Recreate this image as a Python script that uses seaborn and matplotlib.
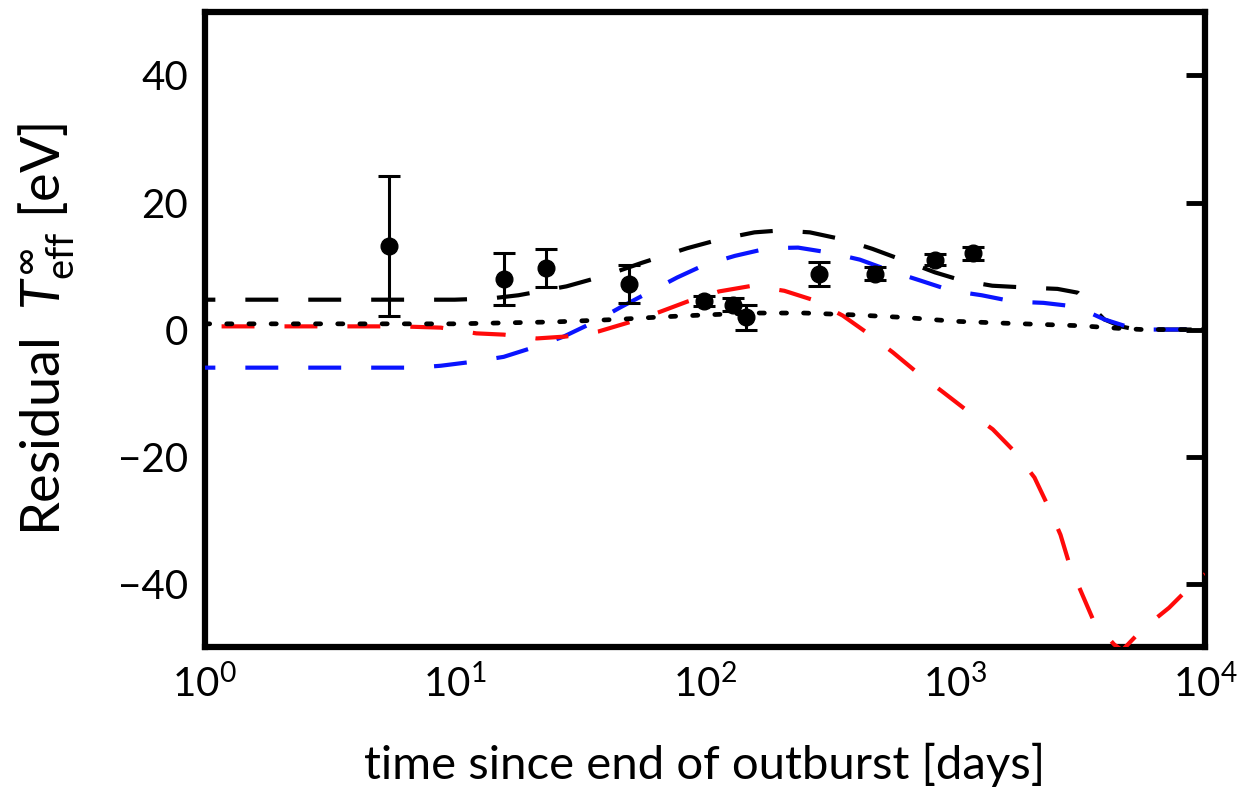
import numpy as np
import pandas as pd
import matplotlib
matplotlib.use("Agg")
import matplotlib.pyplot as plt
from matplotlib.ticker import LogLocator, NullLocator, FixedLocator
import seaborn as sns

# ---- data ----
obs_days = [5.44, 15.7, 23.1, 50.0, 99.5, 130.0, 146.0, 286.0, 481.0, 829.0, 1178.0]
obs_resid = [13.2, 7.9, 9.7, 7.2, 4.5, 3.9, 1.9, 8.7, 8.8, 11.0, 12.0]
obs_err = [11.0, 4.1, 3.0, 3.0, 0.8, 1.0, 1.9, 1.9, 1.0, 0.9, 1.0]

black_days = [1, 3, 10, 14, 18, 28, 40, 56, 85, 115, 158, 200, 263, 355, 468, 631,
              832, 1070, 1410, 1950, 2570, 3100, 3400, 3954, 4600, 5300, 10000]
black_resid = [4.7, 4.7, 4.7, 4.9, 5.4, 6.8, 8.5, 10.5, 12.8, 14.2, 15.3, 15.6, 15.3,
               14.2, 12.7, 10.8, 9.0, 7.7, 6.9, 6.6, 6.4, 5.8, 4.2, 1.6, 0.5, 0.0, 0.0]

blue_days = [1, 3, 7, 8.8, 12.2, 15.7, 21.1, 27.3, 36.6, 46, 60.7, 77.6, 100, 132, 179,
             236, 316, 417, 565, 729, 971, 1279, 1714, 2259, 3062, 3954, 5309, 10000]
blue_resid = [-6.0, -6.0, -6.0, -5.7, -5.0, -4.3, -2.7, -1.1, 1.3, 3.5, 6.0, 8.2, 10.2,
              11.6, 12.8, 12.9, 12.1, 11.0, 9.1, 7.7, 6.1, 5.4, 4.4, 4.2, 3.6, 1.6, 0.0, 0.0]

red_days = [1.17, 3, 6, 8.8, 12.2, 15.7, 21.3, 27.8, 37.6, 49.5, 65.3, 85.1, 114, 155,
            208, 269, 356, 445, 565, 698, 893, 1104, 1416, 1730, 2080, 2344, 2642, 2871,
            3228, 3606, 4335, 4667, 5610, 7178, 9290, 10000]
red_resid = [0.5, 0.5, 0.5, 0.3, -0.6, -0.8, -1.4, -1.1, -0.3, 1.1, 2.7, 4.4, 6.0, 6.9,
             6.1, 4.7, 2.2, -0.5, -3.6, -6.6, -9.8, -12.6, -15.7, -19.2, -23.3, -27.6,
             -32.3, -37.0, -41.7, -46.1, -49.6, -50.5, -47.2, -43.8, -39.4, -38.5]

dot_days = [1, 10, 25, 45, 68, 100, 158, 250, 400, 630, 1000, 1580, 3160, 4470, 5620, 10000]
dot_resid = [0.9, 0.9, 1.2, 1.6, 2.0, 2.3, 2.6, 2.6, 2.3, 1.9, 1.3, 1.0, 0.6, 0.2, 0.0, 0.0]

xticks = [1, 10, 100, 1000, 10000]
yticks = [-40, -20, 0, 20, 40]

# ---- style ----
sns.set_theme(style="white")
plt.rcParams["font.family"] = ["Lato", "DejaVu Sans"]
plt.rcParams["mathtext.fontset"] = "custom"
plt.rcParams["mathtext.rm"] = "Lato"
plt.rcParams["mathtext.it"] = "Lato:italic"
plt.rcParams["mathtext.bf"] = "Lato:bold"
plt.rcParams["text.color"] = "black"
plt.rcParams["axes.labelcolor"] = "black"
plt.rcParams["xtick.color"] = "black"
plt.rcParams["ytick.color"] = "black"

fig = plt.figure(figsize=(12.38, 7.96), dpi=100)
ax = fig.add_axes([0.1652, 0.187, 0.8082, 0.798])
ax.set_xscale("log")

LW = 3.0

sns.lineplot(x=black_days, y=black_resid, ax=ax, color="black", lw=LW,
             linestyle=(5.3, (7.9, 7.2)), estimator=None, sort=False, zorder=2)
sns.lineplot(x=blue_days, y=blue_resid, ax=ax, color="#0a14ff", lw=LW,
             linestyle=(5.3, (7.9, 7.2)), estimator=None, sort=False, zorder=3)
sns.lineplot(x=red_days, y=red_resid, ax=ax, color="#ff0a0a", lw=LW,
             linestyle=(0, (7.9, 7.2)), estimator=None, sort=False, zorder=3)
sns.lineplot(x=dot_days, y=dot_resid, ax=ax, color="black", lw=3.4,
             linestyle=(0, (1.1, 3.6)), estimator=None, sort=False, zorder=4)
ax.lines[-1].set_dash_capstyle("round")

ax.errorbar(obs_days, obs_resid, yerr=obs_err, fmt="o", color="black",
            markersize=12, elinewidth=2.2, capsize=8, capthick=2.2, zorder=5)

ax.set_xlim(1, 10000)
ax.set_ylim(-50, 50)
ax.xaxis.set_major_locator(FixedLocator(xticks))
ax.xaxis.set_minor_locator(LogLocator(base=10, subs=np.arange(2, 10), numticks=20))
ax.yaxis.set_major_locator(FixedLocator(yticks))
ax.yaxis.set_minor_locator(NullLocator())

for s in ax.spines.values():
    s.set_linewidth(4.5)
    s.set_color("black")

ax.tick_params(which="both", direction="in", top=False, right=True, color="black",
               labelcolor="black")
ax.tick_params(which="major", length=14, width=3.5, labelsize=29, pad=12)
ax.tick_params(which="minor", length=7, width=3.0)
ax.tick_params(axis="y", pad=12)

ax.set_xlabel("time since end of outburst [days]", fontsize=34, labelpad=28)
ax.set_ylabel(r"Residual  $T_{\rm eff}^{\infty}$ [eV]", fontsize=39, labelpad=30)

fig.savefig("out.png", dpi=100)
